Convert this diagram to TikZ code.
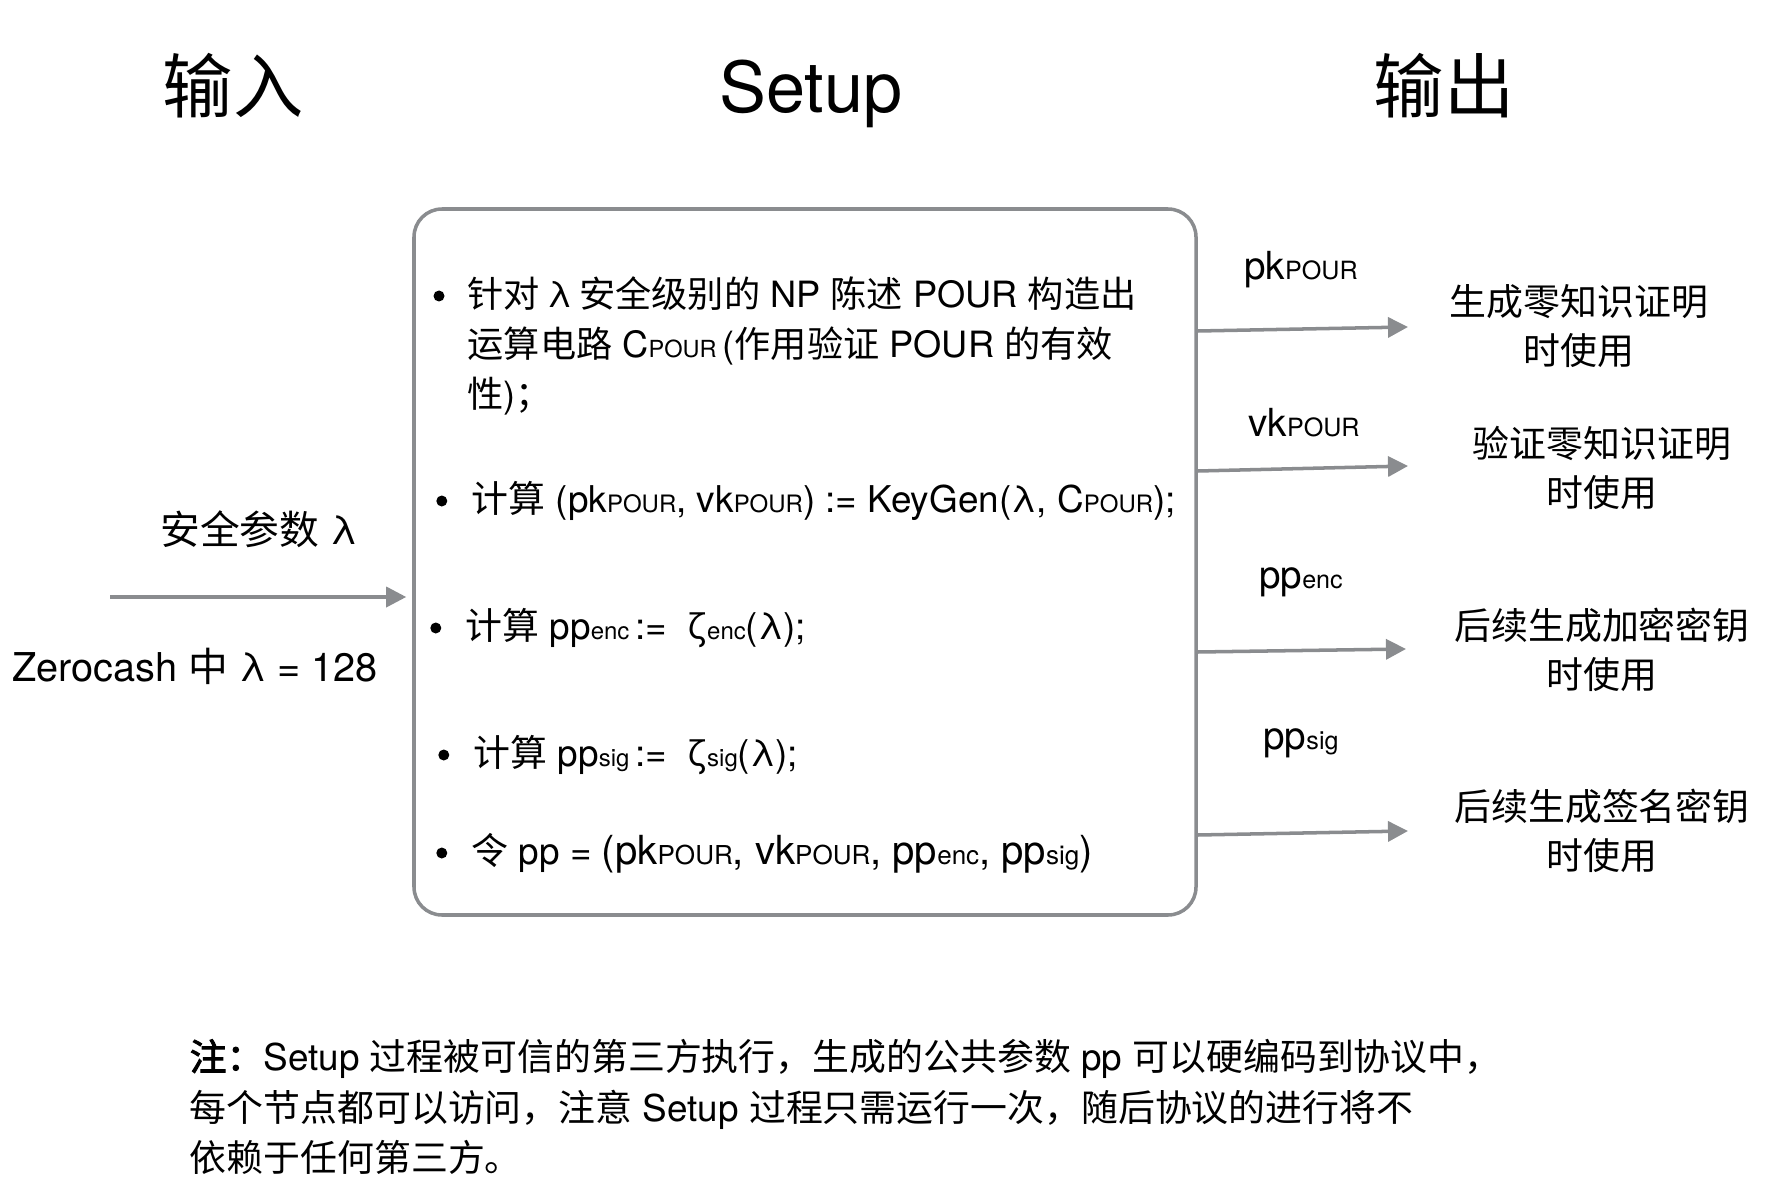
\documentclass[tikz,border=0pt]{standalone}
\usepackage{fontspec}
\setmainfont{TeX Gyre Heros}
\newfontfamily\zhfont{Noto Sans CJK SC}
\newfontfamily\zhbffont{Noto Sans CJK SC}[FakeBold=2.5]
\usetikzlibrary{arrows.meta, positioning}
\definecolor{linegray}{HTML}{8A8C8F}

\newcommand\zh[1]{{\zhfont #1}}
\newcommand\zhb[1]{{\zhbffont #1}}
\makeatletter
\newcommand\sm[1]{{\@tempdima=\f@size pt\@tempdima=0.65\@tempdima
  \fontsize{\strip@pt\@tempdima}{\strip@pt\@tempdima}\selectfont #1}}
\makeatother

\begin{document}
\begin{tikzpicture}[>={Triangle[length=0.2cm, width=0.2cm]},
    every node/.style={inner sep=0pt},
    title/.style={font=\fontsize{20}{24}\selectfont},
    body/.style={font=\fontsize{10.5}{14.2}\selectfont, align=left, anchor=west},
    dot/.style={circle, fill=black, minimum size=0.11cm},
    inlbl/.style={font=\fontsize{11.3}{14}\selectfont},
    outlbl/.style={font=\fontsize{11}{14}\selectfont},
    outtxt/.style={font=\fontsize{10.5}{14}\selectfont, align=center},
    note/.style={font=\fontsize{10.5}{14.4}\selectfont, align=left, anchor=west},
    arr/.style={->, draw=linegray, line width=1pt}]

    \useasboundingbox (0,0) rectangle (17.66,-12.04);

    % =================================================================
    % 1. 三个标题
    % =================================================================
    \node[title] (tin) at (2.33,-0.86) {\zh{输入}};
    \node[title] (tsetup) at (8.11,-0.94) {Setup};
    \node[title] (tout) at (14.44,-0.86) {\zh{输出}};

    % =================================================================
    % 2. 中间的 Setup 圆角框及其内容
    % =================================================================
    \node[draw=linegray, line width=1pt, rounded corners=0.28cm,
        minimum width=7.82cm, minimum height=7.06cm] (setup) at (8.05,-5.62) {};

    \node[body, font=\fontsize{10.3}{14.2}\selectfont] (i1) at (4.67,-3.46)
        {\zh{针对}\hspace{0.2em}λ\hspace{0.2em}\zh{安全级别的} NP \zh{陈述} POUR \zh{构造出}\\
         \zh{运算电路} C\sm{POUR}\,(\zh{作用验证} POUR \zh{的有效}\\
         \zh{性})\zh{；}};
    \node[body] (i2) at (4.71,-5.01)
        {\zh{计算} (pk\sm{POUR}, vk\sm{POUR}) := KeyGen(λ, C\sm{POUR});};
    \node[body] (i3) at (4.65,-6.28)
        {\zh{计算} pp\sm{enc}\,:=\ \ ζ\sm{enc}(λ);};
    \node[body] (i4) at (4.73,-7.55)
        {\zh{计算} pp\sm{sig}\,:=\ \ ζ\sm{sig}(λ);};
    \node[body] (i5) at (4.71,-8.53)
        {\zh{令} pp = {\fontsize{11.4}{14}\selectfont(pk\sm{POUR}, vk\sm{POUR}, pp\sm{enc}, pp\sm{sig})}};

    % 项目符号
    \node[dot] (b1) at (4.39,-2.96) {};
    \node[dot, left=0.23cm of i2] (b2) {};
    \node[dot, left=0.23cm of i3] (b3) {};
    \node[dot, left=0.23cm of i4] (b4) {};
    \node[dot, left=0.23cm of i5] (b5) {};

    % =================================================================
    % 3. 左侧输入
    % =================================================================
    \node[inlbl] (lam) at (2.59,-5.29) {\zh{安全参数} λ};
    \node[inlbl] (zc) at (1.95,-6.66) {Zerocash \zh{中} λ = 128};

    \coordinate (inL) at (1.10,-5.97);
    \draw[arr, shorten >=0.06cm] (inL) -- (inL -| setup.west);

    % =================================================================
    % 4. 右侧输出的箭头、标签和用途
    % =================================================================
    \node[outlbl] (pk) at (13.01,-2.70) {pk\sm{POUR}};
    \node[outlbl] (vk) at (13.04,-4.23) {vk\sm{POUR}};
    \node[outlbl] (ppe) at (13.01,-5.82) {pp\sm{enc}};
    \node[outlbl] (pps) at (13.01,-7.43) {pp\sm{sig}};

    \coordinate (s1) at (11.98,-3.31);
    \coordinate (s2) at (11.98,-4.71);
    \coordinate (s3) at (11.98,-6.52);
    \coordinate (s4) at (11.98,-8.35);
    \coordinate (e1) at (14.08,-3.27);
    \coordinate (e2) at (14.08,-4.66);
    \coordinate (e3) at (14.06,-6.49);
    \coordinate (e4) at (14.08,-8.31);

    \draw[arr] (setup.east |- s1) -- (e1);
    \draw[arr] (setup.east |- s2) -- (e2);
    \draw[arr] (setup.east |- s3) -- (e3);
    \draw[arr] (setup.east |- s4) -- (e4);

    \node[outtxt] (u1) at (15.79,-3.26) {\zh{生成零知识证明}\\\zh{时使用}};
    \node[outtxt] (u2) at (16.02,-4.68) {\zh{验证零知识证明}\\\zh{时使用}};
    \node[outtxt] (u3) at (16.02,-6.50) {\zh{后续生成加密密钥}\\\zh{时使用}};
    \node[outtxt] (u4) at (16.02,-8.31) {\zh{后续生成签名密钥}\\\zh{时使用}};

    % =================================================================
    % 5. 底部注释
    % =================================================================
    \node[note] (nt) at (1.89,-11.07)
        {\zhb{注：}Setup \zh{过程被可信的第三方执行，生成的公共参数} pp \zh{可以硬编码到协议中，}\\
         \zh{每个节点都可以访问，注意} Setup \zh{过程只需运行一次，随后协议的进行将不}\\
         \zh{依赖于任何第三方。}};

\end{tikzpicture}
\end{document}
